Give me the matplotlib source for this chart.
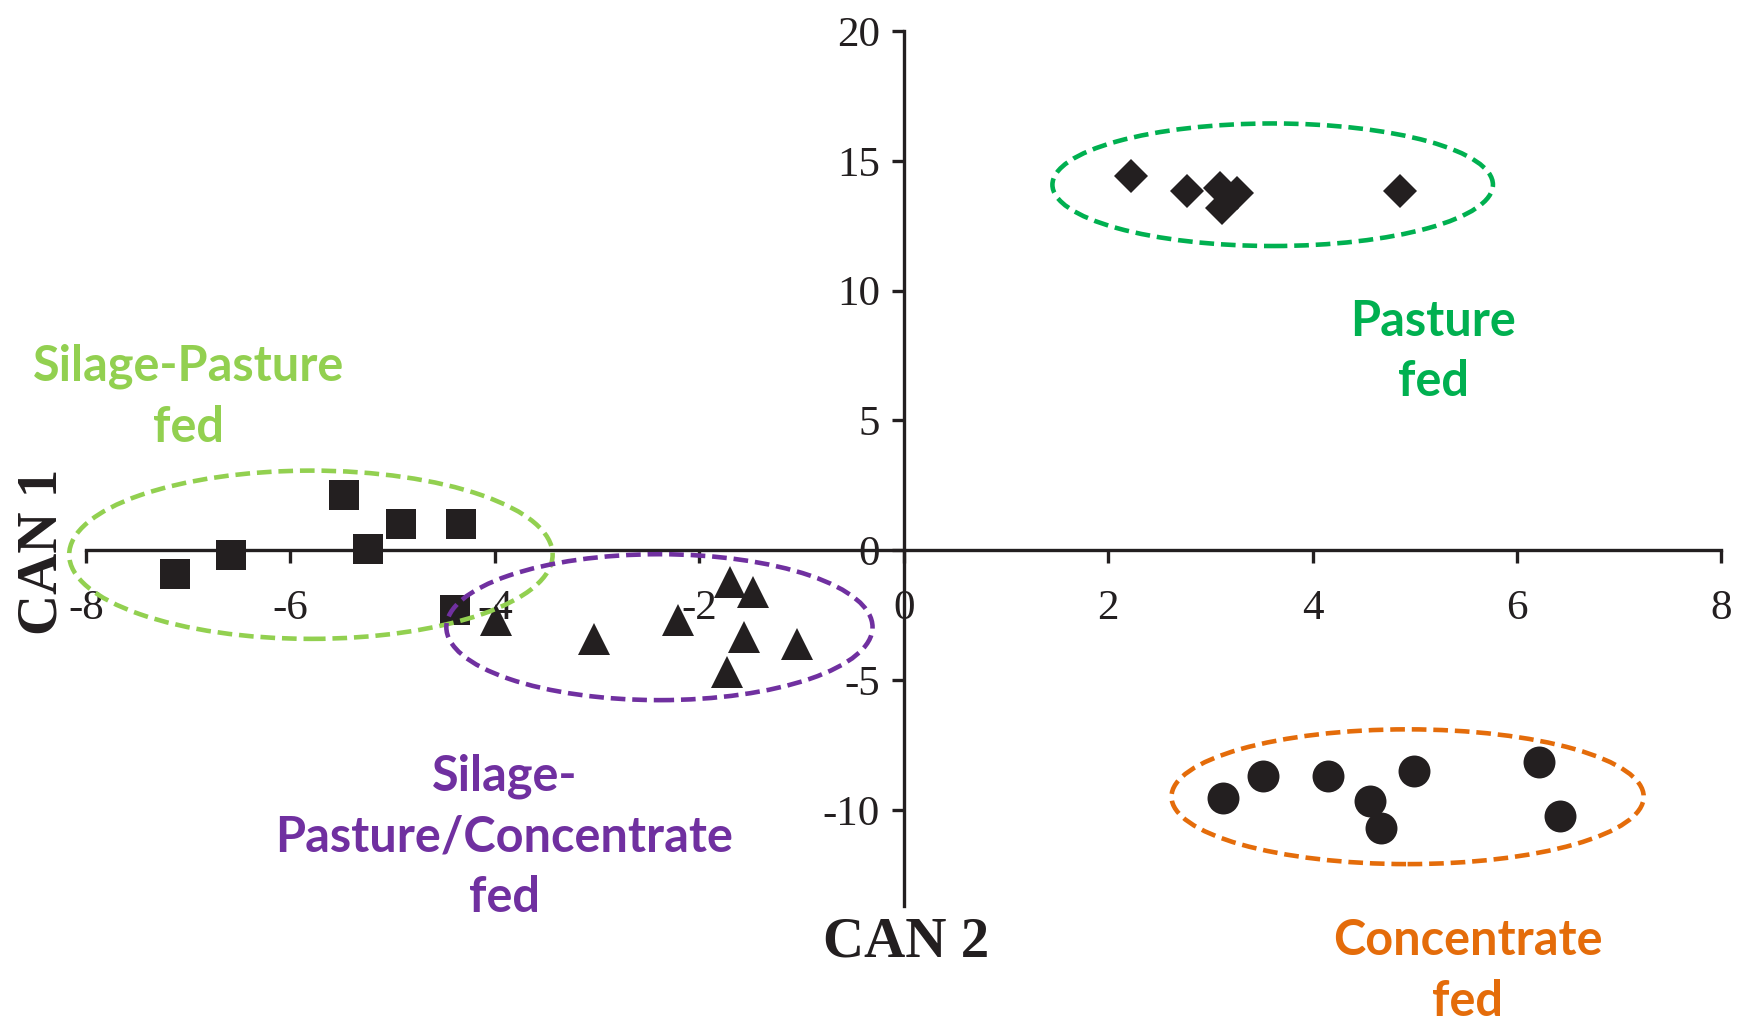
import matplotlib
matplotlib.use('Agg')
import matplotlib.pyplot as plt
from matplotlib.patches import Ellipse

# canonical scores (CAN 2 on x, CAN 1 on y) per feeding group
silage_pasture_x = [-7.13, -6.58, -5.48, -5.24, -4.92, -4.33, -4.39]
silage_pasture_y = [-0.92, -0.19, 2.14, 0.06, 1.0, 1.0, -2.28]
mixed_x = [-3.99, -3.03, -2.21, -1.70, -1.47, -1.56, -1.04, -1.73]
mixed_y = [-2.69, -3.40, -2.69, -1.22, -1.60, -3.33, -3.59, -4.68]
pasture_x = [2.22, 2.77, 3.09, 3.26, 3.11, 4.86]
pasture_y = [14.42, 13.84, 13.97, 13.77, 13.17, 13.84]
concentrate_x = [3.12, 3.52, 4.15, 4.56, 4.67, 4.99, 6.22, 6.42]
concentrate_y = [-9.55, -8.70, -8.70, -9.65, -10.70, -8.50, -8.15, -10.25]

xticks = [-8, -6, -4, -2, 0, 2, 4, 6, 8]
yticks = [-10, -5, 0, 5, 10, 15, 20]

LGREEN, GREEN, PURPLE, ORANGE = '#92D050', '#00B050', '#7030A0', '#E46C0A'
INK = '#231F20'

fig = plt.figure(figsize=(17.49, 10.24), dpi=100)
ax = fig.add_axes([0.0492, 0.1152, 0.935, 0.8545])
ax.set_xlim(-8, 8)
ax.set_ylim(-13.7, 20)

for s in ('top', 'right'):
    ax.spines[s].set_visible(False)
ax.spines['left'].set_position(('data', 0))
ax.spines['bottom'].set_position(('data', 0))
for s in ('left', 'bottom'):
    ax.spines[s].set_linewidth(2.4)
    ax.spines[s].set_color(INK)

ax.set_xticks(xticks)
ax.set_yticks(yticks)
ax.set_xticklabels([str(v) for v in xticks])
ax.set_yticklabels([str(v) for v in yticks])
ax.tick_params(axis='both', direction='out', length=9, width=2.4, color=INK)
ax.tick_params(axis='x', pad=19)
ax.tick_params(axis='y', pad=8)
for lab in ax.get_xticklabels() + ax.get_yticklabels():
    lab.set_fontfamily('Liberation Serif')
    lab.set_fontsize(31)
    lab.set_color(INK)

kw = dict(ls='none', color=INK, mew=0, zorder=3, clip_on=False)
ax.plot(silage_pasture_x, silage_pasture_y, marker='s', ms=21, **kw)
ax.plot(mixed_x, mixed_y, marker='^', ms=23, **kw)
ax.plot(pasture_x, pasture_y, marker='D', ms=17.5, **kw)
ax.plot(concentrate_x, concentrate_y, marker='o', ms=23, **kw)

# group outlines
rings = [((-5.80, -0.17), 4.73, 6.48, LGREEN),
         ((-2.39, -2.96), 4.17, 5.62, PURPLE),
         ((3.61, 14.08), 4.31, 4.72, GREEN),
         ((4.93, -9.49), 4.62, 5.19, ORANGE)]
for (cx, cy), w, h, c in rings:
    ax.add_patch(Ellipse((cx, cy), w, h, fill=False, ec=c, lw=3.3,
                         ls=(0, (3.2, 1.5)), zorder=4, clip_on=False))

fig.text(0.0242, 0.4608, 'CAN 1', rotation=90, ha='center', va='center',
         family='Liberation Serif', weight='bold', fontsize=41, color=INK)
fig.text(0.518, 0.0795, 'CAN 2', ha='center', va='center',
         family='Liberation Serif', weight='bold', fontsize=41, color=INK)

tkw = dict(ha='center', va='center', family='Lato', weight='bold',
           fontsize=35, linespacing=1.42)
fig.text(0.1078, 0.6127, 'Silage-Pasture\nfed', color=LGREEN, **tkw)
fig.text(0.8195, 0.6569, 'Pasture\nfed', color=GREEN, **tkw)
fig.text(0.2883, 0.183, 'Silage-\nPasture/Concentrate\nfed', color=PURPLE, **tkw)
fig.text(0.8393, 0.0517, 'Concentrate\nfed', color=ORANGE, **tkw)

fig.savefig('out.png', dpi=100)
